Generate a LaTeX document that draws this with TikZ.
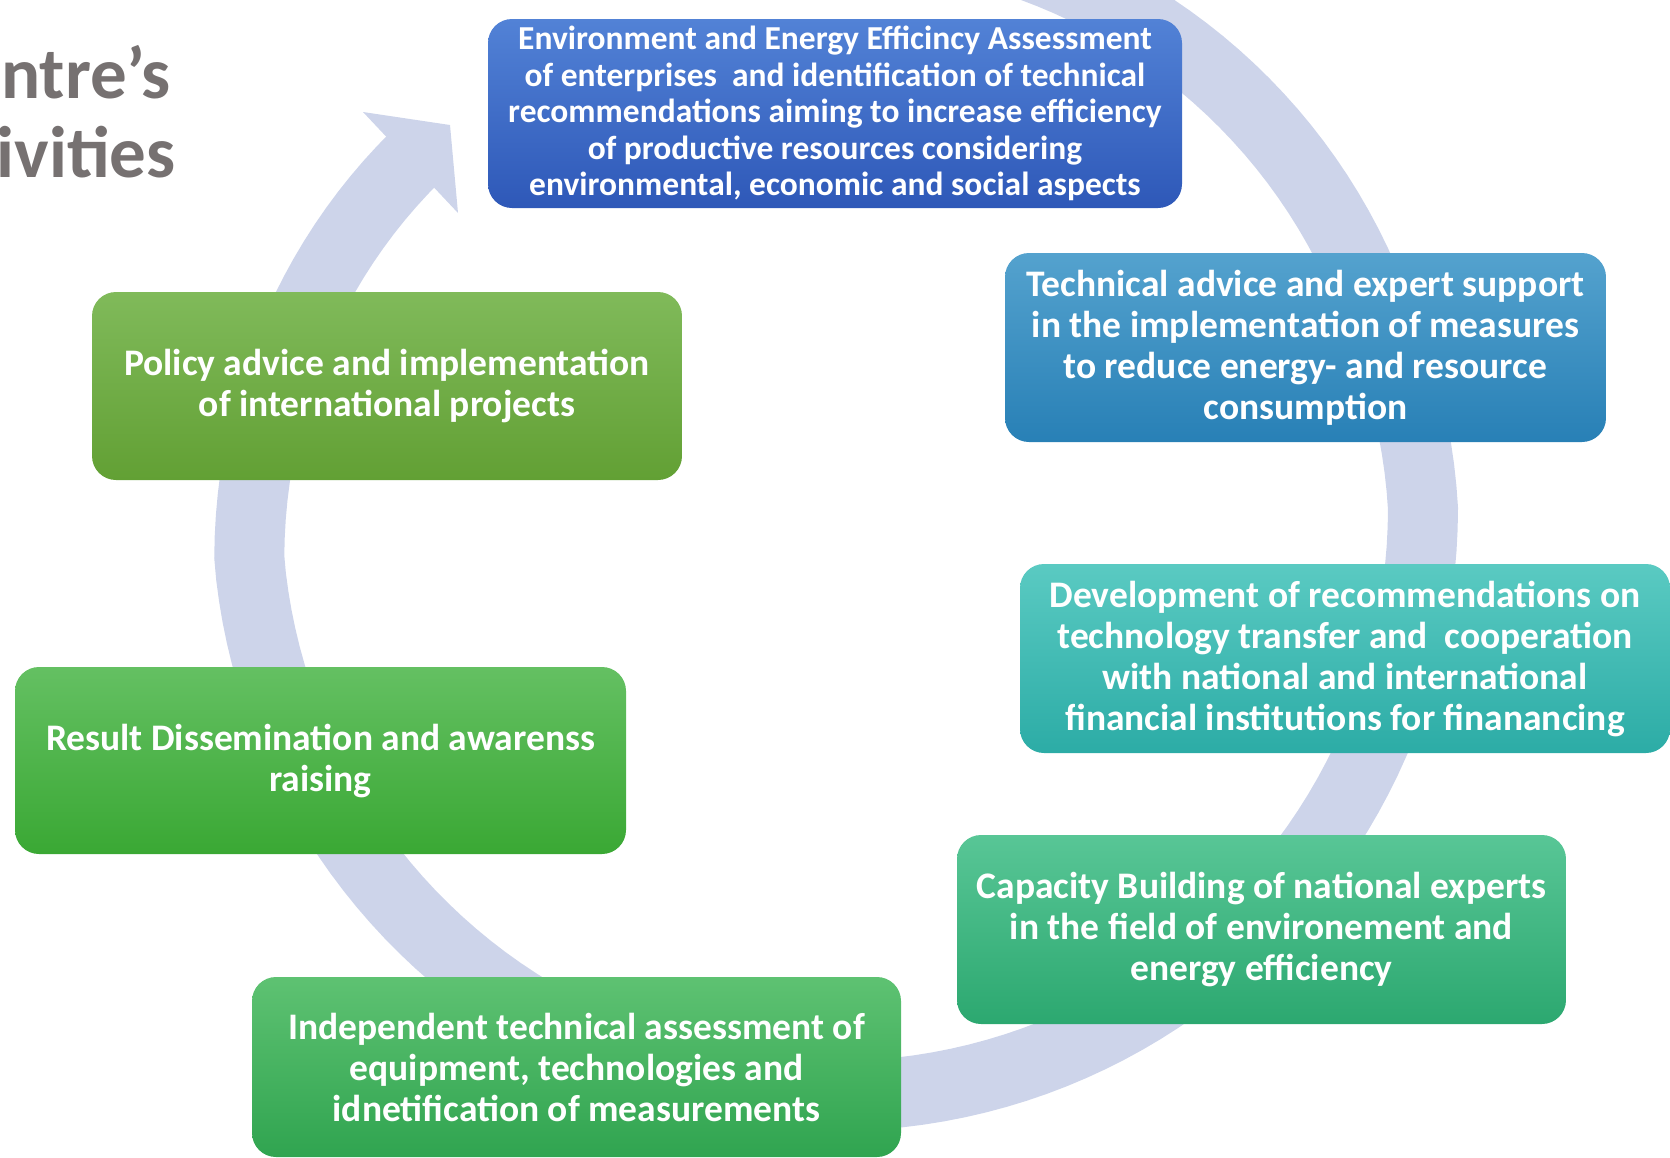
\documentclass[tikz,border=0pt]{standalone}
\usepackage{fontspec}
\setmainfont{Carlito}
\usepackage{xcolor}
\definecolor{ringblue}{RGB}{205,212,234}
\definecolor{titlegray}{RGB}{118,113,113}
\definecolor{assessT}{RGB}{82,130,214}
\definecolor{assessB}{RGB}{46,88,184}
\definecolor{adviceT}{RGB}{84,162,206}
\definecolor{adviceB}{RGB}{40,128,182}
\definecolor{developT}{RGB}{90,202,194}
\definecolor{developB}{RGB}{44,172,166}
\definecolor{capacityT}{RGB}{88,198,150}
\definecolor{capacityB}{RGB}{44,168,112}
\definecolor{indepT}{RGB}{94,194,114}
\definecolor{indepB}{RGB}{48,164,80}
\definecolor{resultT}{RGB}{100,192,98}
\definecolor{resultB}{RGB}{58,168,52}
\definecolor{policyT}{RGB}{128,186,90}
\definecolor{policyB}{RGB}{98,160,52}

\begin{document}
\begin{tikzpicture}[x=1pt,y=-1pt,
    box/.style={rounded corners=24pt, minimum height=189pt, inner sep=0pt, align=center,
      text=white, font=\bfseries\fontsize{37.5}{41}\selectfont},
    ring/.style={line width=70pt, color=ringblue},
    title/.style={text=titlegray, inner sep=0pt, font=\bfseries\fontsize{73}{79}\selectfont}]
  \useasboundingbox (0,0) rectangle (1670,1157);
  \clip (0,0) rectangle (1670,1157);

  \draw [ring] plot [domain=-70:220, samples=150]
    ({835+(588-12*max(0,-\x)/20*(\x<=0)*(\x>-20)-12*(\x<=-20)-40*max(0,\x-175)/44)*cos(\x)},
     {508+(588-12*max(0,-\x)/20*(\x<=0)*(\x>-20)-12*(\x<=-20)-40*max(0,\x-175)/44)*sin(\x)});
  \fill [ringblue] (363,112) -- (450,125) -- (458,213) -- cycle;

  \node (title1) [title, anchor=base east] at (171,98) {ntre’s};
  \node (title2) [title, anchor=base east] at (176,177) {ivities};

  \node (assess) [box, top color=assessT, bottom color=assessB, minimum width=694pt,
    font=\bfseries\fontsize{33.5}{36.5}\selectfont] at (835,113.5)
    {Environment and Energy Efficincy Assessment\\of enterprises~ and identification of technical\\recommendations aiming to increase efficiency\\of productive resources considering\\environmental, economic and social aspects};
  \node (advice) [box, top color=adviceT, bottom color=adviceB, minimum width=601pt] at (1305.5,347.5)
    {Technical advice and expert support\\in the implementation of measures\\to reduce energy- and resource\\consumption};
  \node (develop) [box, top color=developT, bottom color=developB, minimum width=650pt] at (1345,658.5)
    {Development of recommendations on\\technology transfer and~ cooperation\\with national and international\\financial institutions for finanancing};
  \node (capacity) [box, top color=capacityT, bottom color=capacityB, minimum width=609pt] at (1261.5,929.5)
    {Capacity Building of national experts\\in the field of environement and\\energy efficiency};
  \node (indep) [box, top color=indepT, bottom color=indepB, minimum width=649pt, minimum height=180pt] at (576.5,1067)
    {Independent technical assessment of\\equipment, technologies and\\idnetification of measurements};
  \node (result) [box, top color=resultT, bottom color=resultB, minimum width=611pt, minimum height=187pt] at (320.5,760.5)
    {Result Dissemination and awarenss\\raising};
  \node (policy) [box, top color=policyT, bottom color=policyB, minimum width=590pt, minimum height=188pt] at (387,386)
    {Policy advice and implementation\\of international projects};
\end{tikzpicture}
\end{document}
